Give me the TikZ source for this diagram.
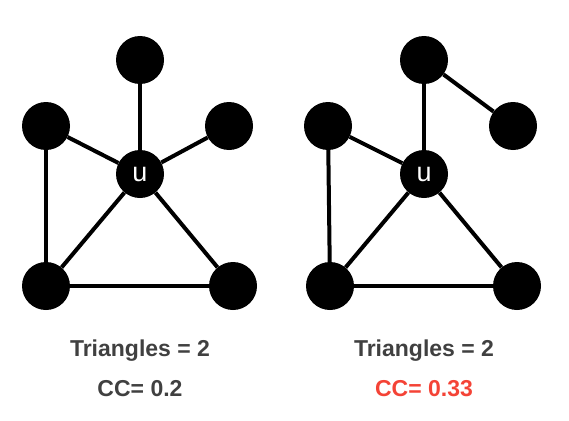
\documentclass[tikz,border=0pt]{standalone}
\usepackage{fontspec}
\setmainfont{Liberation Sans}
\definecolor{textgray}{HTML}{404040}
\definecolor{ccred}{HTML}{F44336}

\begin{document}
\begin{tikzpicture}[x=1pt,y=-1pt,
	vertex/.style={circle,fill=black,inner sep=0pt,minimum size=48pt,text=white,font=\fontsize{27}{27}\selectfont},
	edge/.style={line width=4pt},
	caption/.style={font=\fontsize{23}{23}\selectfont\bfseries,text=textgray}]

\useasboundingbox (0,0) rectangle (569,420);

% left graph
\node[vertex] (lt) at (140,60) {};
\node[vertex] (ll) at (46,126) {};
\node[vertex] (lr) at (229,126) {};
\node[vertex] (lu) at (140,174) {u};
\node[vertex] (lbl) at (46,286) {};
\node[vertex] (lbr) at (233,286) {};

% right graph
\node[vertex] (rt) at (424,60) {};
\node[vertex] (rr) at (513,126) {};
\node[vertex] (rl) at (328,126) {};
\node[vertex] (ru) at (424,174) {u};
\node[vertex] (rbl) at (330,286) {};
\node[vertex] (rbr) at (517,286) {};

\foreach \a/\b in {lu/lt,lu/ll,lu/lr,lu/lbl,lu/lbr,ll/lbl,lbl/lbr,
		ru/rt,rt/rr,ru/rl,rl/rbl,ru/rbl,ru/rbr,rbl/rbr}
	\draw[edge] (\a) -- (\b);

\node[caption] (ltri) at (140,351) {Triangles = 2};
\node[caption] (lcc) at (140,389) {CC= 0.2};
\node[caption] (rtri) at (424,351) {Triangles = 2};
\node[caption,text=ccred] (rcc) at (424,389) {CC= 0.33};

\end{tikzpicture}
\end{document}
